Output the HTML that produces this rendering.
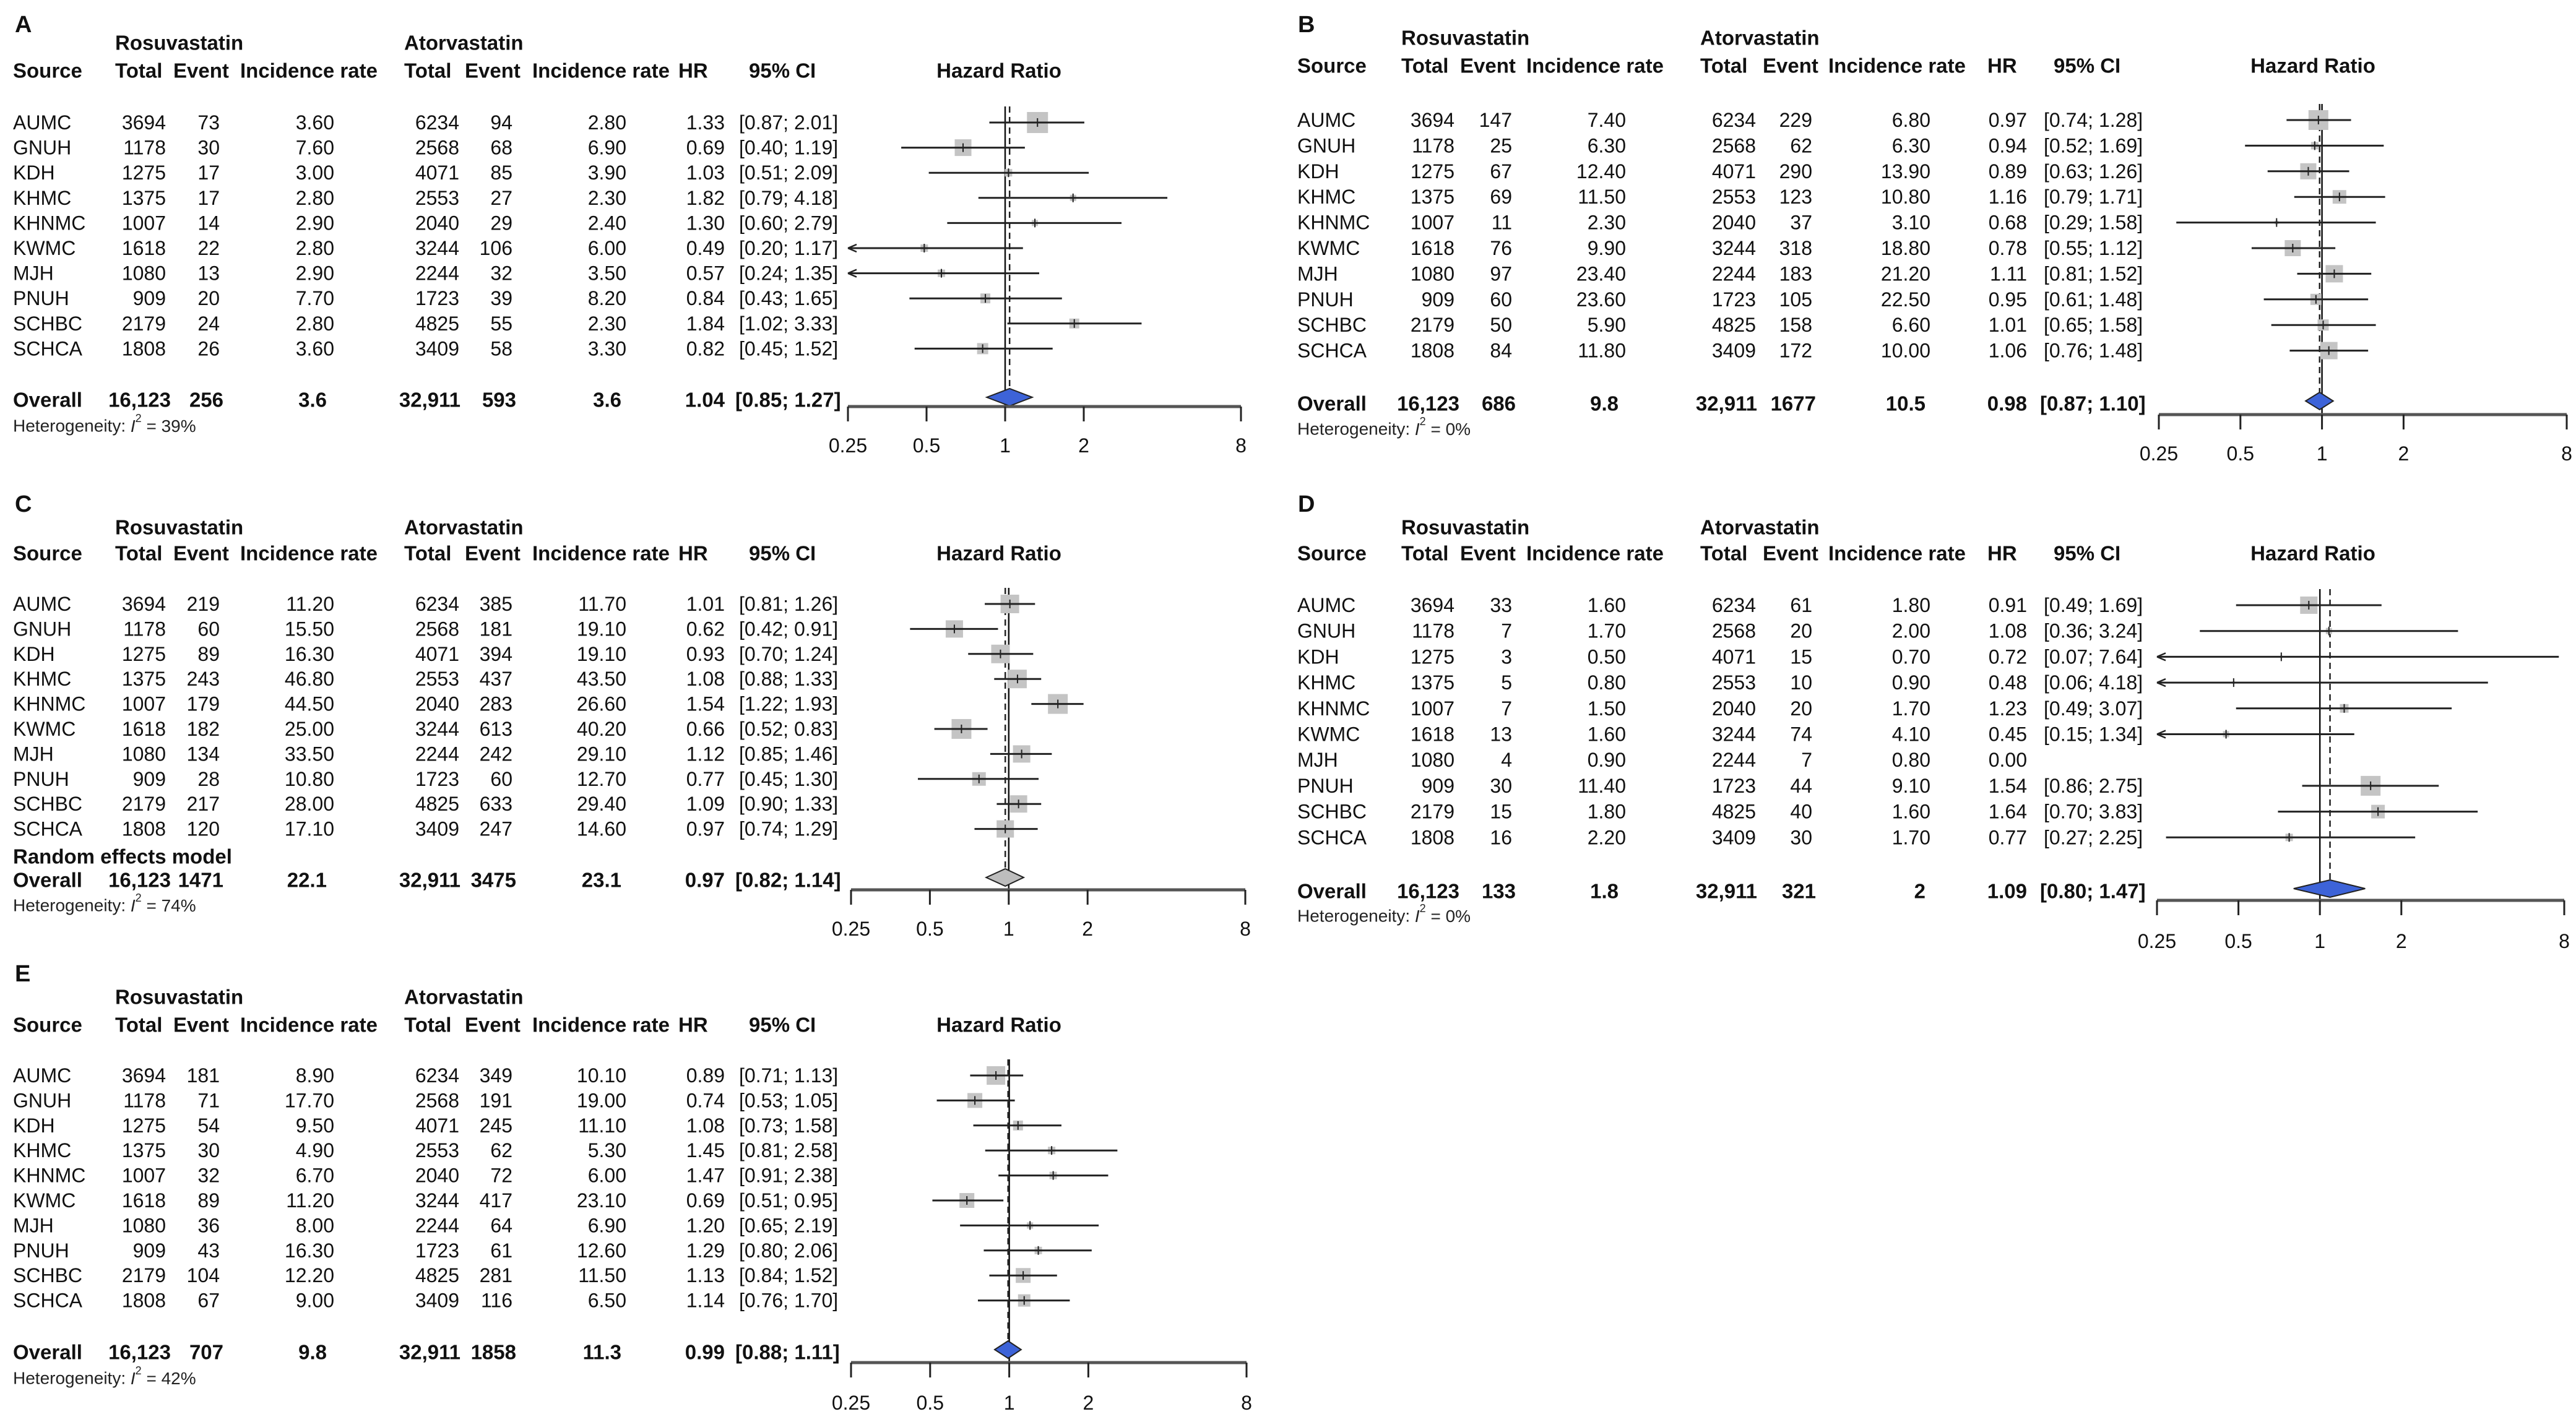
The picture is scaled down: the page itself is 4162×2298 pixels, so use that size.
<!DOCTYPE html>
<html><head><meta charset="utf-8">
<style>
html,body{margin:0;padding:0;background:#fff;}
svg{display:block;font-family:"Liberation Sans",Arial,sans-serif;}
</style></head>
<body>
<svg id="fig" width="4162" height="2298" viewBox="0 0 4162 2298" xmlns="http://www.w3.org/2000/svg"></svg>
<script>
// ---- shared data ----
const sites = ["AUMC","GNUH","KDH","KHMC","KHNMC","KWMC","MJH","PNUH","SCHBC","SCHCA"];
const totalR = ["3694","1178","1275","1375","1007","1618","1080","909","2179","1808"];
const totalA = ["6234","2568","4071","2553","2040","3244","2244","1723","4825","3409"];
const tickVals = [0.25,0.5,1,2,8];
const tickLabels = ["0.25","0.5","1","2","8"];

// ---- panel A ----
const aEvR=["73","30","17","17","14","22","13","20","24","26"];
const aIrR=["3.60","7.60","3.00","2.80","2.90","2.80","2.90","7.70","2.80","3.60"];
const aEvA=["94","68","85","27","29","106","32","39","55","58"];
const aIrA=["2.80","6.90","3.90","2.30","2.40","6.00","3.50","8.20","2.30","3.30"];
const aHR=[1.33,0.69,1.03,1.82,1.30,0.49,0.57,0.84,1.84,0.82];
const aLo=[0.87,0.40,0.51,0.79,0.60,0.20,0.24,0.43,1.02,0.45];
const aHi=[2.01,1.19,2.09,4.18,2.79,1.17,1.35,1.65,3.33,1.52];
const aBox=[34,27,12,10,10,12,12,16,16,18];
const aOverall=["16,123","256","3.6","32,911","593","3.6"];
const aOvHR=[1.04,0.85,1.27];
const aI2="39%";
// ---- panel B ----
const bEvR=["147","25","67","69","11","76","97","60","50","84"];
const bIrR=["7.40","6.30","12.40","11.50","2.30","9.90","23.40","23.60","5.90","11.80"];
const bEvA=["229","62","290","123","37","318","183","105","158","172"];
const bIrA=["6.80","6.30","13.90","10.80","3.10","18.80","21.20","22.50","6.60","10.00"];
const bHR=[0.97,0.94,0.89,1.16,0.68,0.78,1.11,0.95,1.01,1.06];
const bLo=[0.74,0.52,0.63,0.79,0.29,0.55,0.81,0.61,0.65,0.76];
const bHi=[1.28,1.69,1.26,1.71,1.58,1.12,1.52,1.48,1.58,1.48];
const bBox=[32,12,26,22,6,26,28,18,18,28];
const bOverall=["16,123","686","9.8","32,911","1677","10.5"];
const bOvHR=[0.98,0.87,1.10];
const bI2="0%";
// ---- panel C ----
const cEvR=["219","60","89","243","179","182","134","28","217","120"];
const cIrR=["11.20","15.50","16.30","46.80","44.50","25.00","33.50","10.80","28.00","17.10"];
const cEvA=["385","181","394","437","283","613","242","60","633","247"];
const cIrA=["11.70","19.10","19.10","43.50","26.60","40.20","29.10","12.70","29.40","14.60"];
const cHR=[1.01,0.62,0.93,1.08,1.54,0.66,1.12,0.77,1.09,0.97];
const cLo=[0.81,0.42,0.70,0.88,1.22,0.52,0.85,0.45,0.90,0.74];
const cHi=[1.26,0.91,1.24,1.33,1.93,0.83,1.46,1.30,1.33,1.29];
const cBox=[30,28,30,30,32,32,28,22,28,28];
const cOverall=["16,123","1471","22.1","32,911","3475","23.1"];
const cOvHR=[0.97,0.82,1.14];
const cI2="74%";
// ---- panel D ----
const dEvR=["33","7","3","5","7","13","4","30","15","16"];
const dIrR=["1.60","1.70","0.50","0.80","1.50","1.60","0.90","11.40","1.80","2.20"];
const dEvA=["61","20","15","10","20","74","7","44","40","30"];
const dIrA=["1.80","2.00","0.70","0.90","1.70","4.10","0.80","9.10","1.60","1.70"];
const dHR=[0.91,1.08,0.72,0.48,1.23,0.45,0,1.54,1.64,0.77];
const dLo=[0.49,0.36,0.07,0.06,0.49,0.15,null,0.86,0.70,0.27];
const dHi=[1.69,3.24,7.64,4.18,3.07,1.34,null,2.75,3.83,2.25];
const dBox=[28,10,4,4,14,10,0,32,22,12];
const dOverall=["16,123","133","1.8","32,911","321","2"];
const dOvHR=[1.09,0.80,1.47];
const dI2="0%";
// ---- panel E ----
const eEvR=["181","71","54","30","32","89","36","43","104","67"];
const eIrR=["8.90","17.70","9.50","4.90","6.70","11.20","8.00","16.30","12.20","9.00"];
const eEvA=["349","191","245","62","72","417","64","61","281","116"];
const eIrA=["10.10","19.00","11.10","5.30","6.00","23.10","6.90","12.60","11.50","6.50"];
const eHR=[0.89,0.74,1.08,1.45,1.47,0.69,1.20,1.29,1.13,1.14];
const eLo=[0.71,0.53,0.73,0.81,0.91,0.51,0.65,0.80,0.84,0.76];
const eHi=[1.13,1.05,1.58,2.58,2.38,0.95,2.19,2.06,1.52,1.70];
const eBox=[30,24,16,12,12,24,10,12,24,20];
const eOverall=["16,123","707","9.8","32,911","1858","11.3"];
const eOvHR=[0.99,0.88,1.11];
const eI2="42%";

const NS="http://www.w3.org/2000/svg";
const svg=document.getElementById('fig');
function el(tag,attrs,parent){const e=document.createElementNS(NS,tag);for(const k in attrs)e.setAttribute(k,attrs[k]);(parent||svg).appendChild(e);return e;}
function txt(parent,x,y,s,size,weight,anchor,name){
  const t=el('text',{x:x,y:y,'font-size':size,'font-weight':weight||'normal','text-anchor':anchor||'start','dominant-baseline':'central',fill:'#111'},parent);
  t.textContent=s;
  
  
  return t;
}
const L={A:{label:'A',lx:24,ly:40,rosY:69,hdrY:114,row0:198,step:40.6,ovY:646,hetY:688,axY:657,tickY:720,axL:1370,axR:2005,
  name:21,total:268,event:355,ir:540,total2:742,event2:828,ir2:1012,hr:1171,ci:1194,
  hTotal:186,hEvent:280,hInc:388,hTotal2:653,hEvent2:751,hInc2:860,hHR:1096,hCI:1210,hTitle:1614},
 B:{label:'B',lx:2097,ly:40,rosY:61,hdrY:106,row0:194,step:41.4,ovY:652,hetY:693,axY:670,tickY:733,axL:3488,axR:4147,
  name:2096,total:2350,event:2443,ir:2627,total2:2837,event2:2928,ir2:3119,hr:3275,ci:3302,
  hTotal:2264,hEvent:2359,hInc:2466,hTotal2:2747,hEvent2:2848,hInc2:2954,hHR:3211,hCI:3318,hTitle:3737}};
L.C=Object.assign({},L.A,{label:'C',ly:815,rosY:852,hdrY:894,row0:976,step:40.4,ovY:1422,hetY:1463,axY:1438,tickY:1501,axL:1375,axR:2012,reY:1384});
L.D=Object.assign({},L.B,{label:'D',ly:815,rosY:852,hdrY:894,row0:978,step:41.7,ovY:1440,hetY:1480,axY:1455,tickY:1521,axL:3485,axR:4143});
L.E=Object.assign({},L.A,{label:'E',ly:1574,rosY:1611,hdrY:1656,row0:1738,step:40.4,ovY:2185,hetY:2227,axY:2202,tickY:2267,axL:1375,axR:2014});

function panel(g,d){
  const grp=el('g',{});
  
  
  const FS=32, HB=33;
  const xs=v=>g.axL+(Math.log2(v)-Math.log2(0.25))/(Math.log2(8)-Math.log2(0.25))*(g.axR-g.axL);
  txt(grp,g.lx,g.ly,g.label,38,'bold','start','panel-label');
  txt(grp,g.hTotal,g.rosY,'Rosuvastatin',HB,'bold','start','rosuvastatin-header');
  txt(grp,g.hTotal2,g.rosY,'Atorvastatin',HB,'bold','start','atorvastatin-header');
  const hd=[[g.name,'Source'],[g.hTotal,'Total'],[g.hEvent,'Event'],[g.hInc,'Incidence rate'],[g.hTotal2,'Total'],[g.hEvent2,'Event'],[g.hInc2,'Incidence rate'],[g.hHR,'HR'],[g.hCI,'95% CI']];
  hd.forEach(h=>txt(grp,h[0],g.hdrY,h[1],HB,'bold','start','column-header'));
  txt(grp,g.hTitle,g.hdrY,'Hazard Ratio',HB,'bold','middle','hazard-ratio-title');
  const x1=xs(1), xo=xs(d.ov[0]);
  const top=g.row0-26;
  // reference line
  const rl=el('line',{x1:x1,y1:top,x2:x1,y2:g.axY,stroke:'#111','stroke-width':2.5},grp);
  
  
  const dl=el('line',{x1:xo,y1:top,x2:xo,y2:g.axY-14,stroke:'#222','stroke-width':2.5,'stroke-dasharray':'10,7'},grp);
  
  
  sites.forEach((s,i)=>{
    const y=g.row0+i*g.step;
    txt(grp,g.name,y,s,FS,'normal','start','site-name');
    txt(grp,g.total,y,totalR[i],FS,'normal','end','rosu-total');
    txt(grp,g.event,y,d.evR[i],FS,'normal','end','rosu-event');
    txt(grp,g.ir,y,d.irR[i],FS,'normal','end','rosu-incidence');
    txt(grp,g.total2,y,totalA[i],FS,'normal','end','ator-total');
    txt(grp,g.event2,y,d.evA[i],FS,'normal','end','ator-event');
    txt(grp,g.ir2,y,d.irA[i],FS,'normal','end','ator-incidence');
    txt(grp,g.hr,y,d.hr[i].toFixed(2),FS,'normal','end','hr-value');
    if(d.lo[i]!=null){
      txt(grp,g.ci,y,'['+d.lo[i].toFixed(2)+'; '+d.hi[i].toFixed(2)+']',FS,'normal','start','ci-value');
      const b=d.box[i];
      const r=el('rect',{x:xs(d.hr[i])-b/2,y:y-b/2,width:b,height:b,fill:'#c4c4c4'},grp);
      
      
      const clipL=d.lo[i]<0.25, clipR=d.hi[i]>8;
      const xl=clipL?g.axL:xs(d.lo[i]), xr=clipR?g.axR:xs(d.hi[i]);
      const ln=el('line',{x1:xl,y1:y,x2:xr,y2:y,stroke:'#222','stroke-width':3},grp);
      
      
      const tk=el('line',{x1:xs(d.hr[i]),y1:y-7,x2:xs(d.hr[i]),y2:y+7,stroke:'#222','stroke-width':2},grp);
      
      
      if(clipL){
        const ar=el('path',{d:`M${g.axL} ${y} L${g.axL+14} ${y-6} M${g.axL} ${y} L${g.axL+14} ${y+6}`,stroke:'#222','stroke-width':2.5,fill:'none'},grp);
        
        
      }
    }
  });
  if(g.reY) txt(grp,g.name,g.reY,'Random effects model',HB,'bold','start','random-effects-label');
  const oy=g.ovY;
  txt(grp,g.name,oy,'Overall',HB,'bold','start','overall-label');
  const ocols=[g.total+8,g.event+6,g.ir-12,g.total2+2,g.event2+6,g.ir2-8];
  d.ovT.forEach((v,k)=>txt(grp,ocols[k],oy,v,HB,'bold','end','overall-value'));
  txt(grp,g.hr,oy,d.ov[0].toFixed(2),HB,'bold','end','overall-hr');
  txt(grp,g.ci-6,oy,'['+d.ov[1].toFixed(2)+'; '+d.ov[2].toFixed(2)+']',HB,'bold','start','overall-ci');
  const dx1=xs(d.ov[1]),dx2=xs(d.ov[2]);
  const dm=el('path',{d:`M${dx1} ${oy-4} L${xo} ${oy-18} L${dx2} ${oy-4} L${xo} ${oy+10} Z`,fill:d.dcol,stroke:'#222','stroke-width':2},grp);
  
  
  const het=el('text',{x:g.name,y:g.hetY,'font-size':28,'dominant-baseline':'central',fill:'#222'},grp);
  het.innerHTML='Heterogeneity: <tspan font-style="italic">I</tspan><tspan dy="-12" font-size="18">2</tspan><tspan dy="12"> = '+d.i2+'</tspan>';
  
  
  // axis
  const ax=el('line',{x1:g.axL,y1:g.axY,x2:g.axR,y2:g.axY,stroke:'#555','stroke-width':5},grp);
  
  
  tickVals.forEach((v,k)=>{
    const x=xs(v);
    const t=el('line',{x1:x,y1:g.axY,x2:x,y2:g.axY+24,stroke:'#222','stroke-width':3},grp);
    
    
    txt(grp,x,g.tickY,tickLabels[k],FS,'normal','middle','x-tick-label');
  });
}
panel(L.A,{evR:aEvR,irR:aIrR,evA:aEvA,irA:aIrA,hr:aHR,lo:aLo,hi:aHi,box:aBox,ovT:aOverall,ov:aOvHR,i2:aI2,dcol:'#3d63d8'});
panel(L.B,{evR:bEvR,irR:bIrR,evA:bEvA,irA:bIrA,hr:bHR,lo:bLo,hi:bHi,box:bBox,ovT:bOverall,ov:bOvHR,i2:bI2,dcol:'#3d63d8'});
panel(L.C,{evR:cEvR,irR:cIrR,evA:cEvA,irA:cIrA,hr:cHR,lo:cLo,hi:cHi,box:cBox,ovT:cOverall,ov:cOvHR,i2:cI2,dcol:'#bdbdbd'});
panel(L.D,{evR:dEvR,irR:dIrR,evA:dEvA,irA:dIrA,hr:dHR,lo:dLo,hi:dHi,box:dBox,ovT:dOverall,ov:dOvHR,i2:dI2,dcol:'#3d63d8'});
panel(L.E,{evR:eEvR,irR:eIrR,evA:eEvA,irA:eIrA,hr:eHR,lo:eLo,hi:eHi,box:eBox,ovT:eOverall,ov:eOvHR,i2:eI2,dcol:'#3d63d8'});
</script>
</body></html>
